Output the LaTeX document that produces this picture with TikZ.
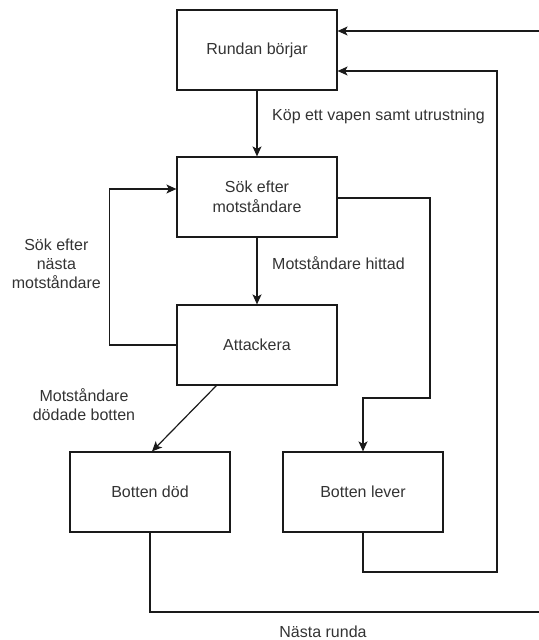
\documentclass[tikz,border=0pt]{standalone}
\usepackage{fontspec}
\setmainfont{Liberation Sans}
\usetikzlibrary{arrows.meta,calc}
\definecolor{txt}{HTML}{333333}
\definecolor{ln}{HTML}{1A1A1A}
\begin{document}
\begin{tikzpicture}[x=1bp,y=-1bp,
  box/.style={draw=ln, line width=1.2bp, minimum width=160bp, minimum height=80bp, inner sep=0pt, align=center, text=txt, font=\fontsize{16bp}{20bp}\selectfont},
  lbl/.style={text=txt, align=center, inner sep=0pt, font=\fontsize{16bp}{19bp}\selectfont},
  conn/.style={draw=ln, line width=1.2bp, -{Stealth[length=10bp,width=9bp,inset=2.5bp]}},
  plainline/.style={draw=ln, line width=1.2bp}]
\useasboundingbox (0,0) rectangle (539,640);

\node[box] (r) at (257,50) {Rundan börjar};
\node[box] (s) at (257,197) {Sök efter\\motståndare};
\node[box] (a) at (257,345) {Attackera};
\node[box] (bd) at (150,492) {Botten död};
\node[box] (bl) at (363,492) {Botten lever};

\coordinate (e1) at (539,612);
\coordinate (e2) at (539,31);

\draw[conn] (r.south) -- (s.north);
\node[lbl, anchor=west] (l1) at (272,116) {Köp ett vapen samt utrustning};

\draw[conn] (s.south) -- (a.north);
\node[lbl, anchor=west] (l2) at (272,263) {Motståndare hittad};

\draw[conn] (a.west) -- ++(-67,0) |- ($(s.west)+(0,-8)$);
\node[lbl, anchor=east] (l3) at (101,264) {Sök efter\\nästa\\motståndare};

\draw[conn] ($(a.south west)+(40,0)$) -- ($(bd.north)+(2,0)$);
\node[lbl] (l4) at (84,405) {Motståndare\\dödade botten};

\draw[conn] ($(s.east)+(0,1)$) -- (430,198) -- (430,398) -| (bl.north);

\draw[conn] (bl.south) -- (363,572) -- (497,572) -- (497,71) -- ($(r.east)+(0,21)$);

\draw[plainline] (bd.south) |- (e1);
\draw[conn] (e2) -- ($(r.east)+(0,-19)$);
\node[lbl] (l5) at (323,632) {Nästa runda};
\end{tikzpicture}
\end{document}
